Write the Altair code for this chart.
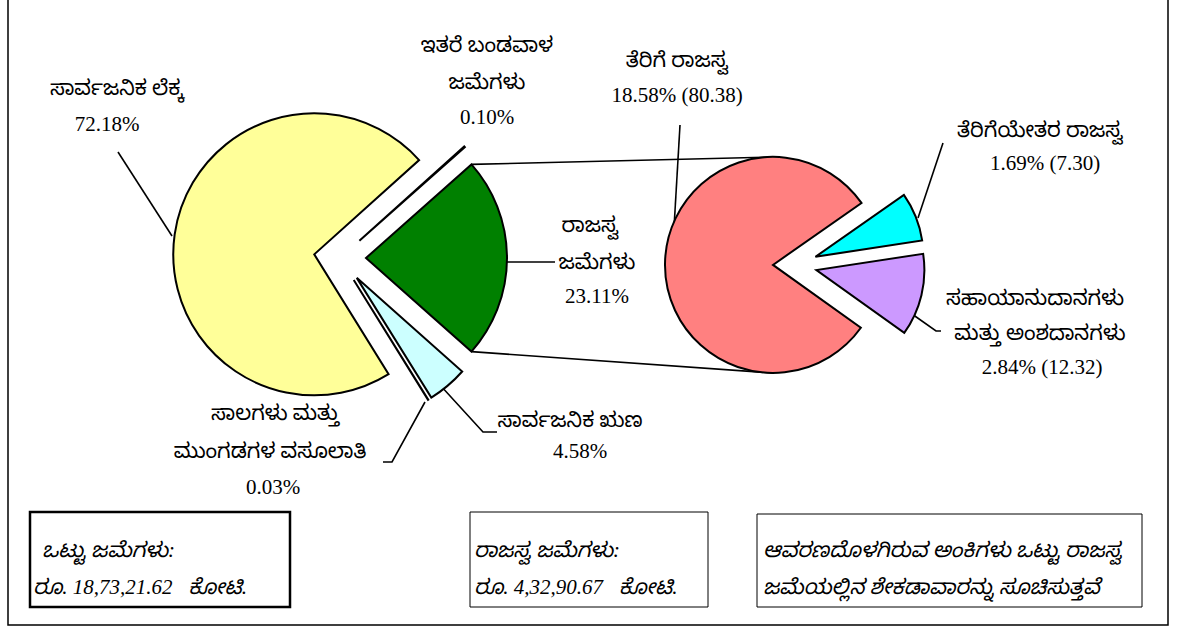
import math
import altair as alt
import pandas as pd

W, H = 1180, 630

# ---------------- data ----------------
left_names = ["ರಾಜಸ್ವ ಜಮೆಗಳು", "ಸಾರ್ವಜನಿಕ ಋಣ", "ಸಾಲಗಳು ಮತ್ತು ಮುಂಗಡಗಳ ವಸೂಲಾತಿ",
              "ಸಾರ್ವಜನಿಕ ಲೆಕ್ಕ", "ಇತರೆ ಬಂಡವಾಳ ಜಮೆಗಳು"]
left_values = [23.11, 4.58, 0.03, 72.18, 0.10]
left_colors = ["#008000", "#CCFFFF", "#FFFFFF", "#FFFF99", "#000000"]

right_names = ["ತೆರಿಗೆಯೇತರ ರಾಜಸ್ವ", "ಸಹಾಯಾನುದಾನಗಳು ಮತ್ತು ಅಂಶದಾನಗಳು", "ತೆರಿಗೆ ರಾಜಸ್ವ"]
right_values = [1.69, 2.84, 18.58]
right_shares = [7.30, 12.32, 80.38]
right_colors = ["#00FFFF", "#CC99FF", "#FF8080"]

label_lines = [
    "ಸಾರ್ವಜನಿಕ ಲೆಕ್ಕ", "72.18%",
    "ಇತರೆ ಬಂಡವಾಳ", "ಜಮೆಗಳು", "0.10%",
    "ತೆರಿಗೆ ರಾಜಸ್ವ", "18.58% (80.38)",
    "ರಾಜಸ್ವ", "ಜಮೆಗಳು", "23.11%",
    "ತೆರಿಗೆಯೇತರ ರಾಜಸ್ವ", "1.69% (7.30)",
    "ಸಹಾಯಾನುದಾನಗಳು", "ಮತ್ತು ಅಂಶದಾನಗಳು", "2.84% (12.32)",
    "ಸಾಲಗಳು ಮತ್ತು", "ಮುಂಗಡಗಳ ವಸೂಲಾತಿ", "0.03%",
    "ಸಾರ್ವಜನಿಕ ಋಣ", "4.58%",
]
box_lines = [
    "ಒಟ್ಟು ಜಮೆಗಳು:", "ರೂ. 18,73,21.62\u00a0\u00a0\u00a0ಕೋಟಿ.",
    "ರಾಜಸ್ವ ಜಮೆಗಳು:", "ರೂ. 4,32,90.67\u00a0\u00a0\u00a0ಕೋಟಿ.",
    "ಆವರಣದೊಳಗಿರುವ ಅಂಕಿಗಳು ಒಟ್ಟು ರಾಜಸ್ವ", "ಜಮೆಯಲ್ಲಿನ ಶೇಕಡಾವಾರನ್ನು ಸೂಚಿಸುತ್ತವೆ",
]

# ---------------- layout / style ----------------
FONT = "Liberation Serif, 'Noto Sans Kannada', 'Noto Serif Kannada', 'Lohit Kannada', 'Noto Sans', sans-serif"
LABEL_SIZE = 21
BOX_SIZE = 21
L_CX, L_CY, L_R, L_EXP = 340, 258, 141, 26
L_ROT = math.radians(90 - left_values[0] / sum(left_values) * 360 / 2)
R_CX, R_CY, R_R, R_EXP = 795, 265, 108, 22
R_ROT = math.radians(55)

label_pos = [
    (117, 89), (107, 125),
    (487, 46), (487, 83), (487, 118),
    (677, 61), (677, 96),
    (590, 226), (597, 263), (597, 297),
    (1040, 131), (1045, 164),
    (1035, 299), (1040, 334), (1042, 368),
    (275, 414), (270, 452), (273, 488),
    (570, 421), (580, 452),
]
box_pos = [(42, 551), (33, 588), (474, 551), (474, 588), (763, 551), (763, 588)]

boxes = [(30, 512, 290, 607, 2.5), (470, 512, 708, 607, 1), (757, 514, 1142, 607, 1)]

leaders = [
    [(118, 152), (172, 236)],
    [(680, 125), (673, 245)],
    [(943, 143), (918, 218)],
    [(912, 314), (936, 331), (941, 331)],
    [(506, 262), (555, 262)],
    [(440, 385), (483, 432), (497, 432)],
    [(425, 402), (392, 462), (383, 462)],
]


def pie(names, values, colors, cx, cy, r, exp, rot):
    total = sum(values)
    df = pd.DataFrame({"name": names, "value": values, "color": colors,
                       "order": list(range(len(names)))})
    base = (
        alt.Chart(df)
        .transform_window(cum="sum(value)", sort=[alt.SortField("order")], frame=[None, 0])
        .transform_calculate(start="datum.cum - datum.value", end="datum.cum")
        .transform_calculate(mid=f"{rot} + (datum.start + datum.end) / 2 / {total} * 2 * PI")
        .transform_calculate(cx=f"{cx} + {exp} * sin(datum.mid)",
                             cy=f"{cy} - {exp} * cos(datum.mid)")
    )
    return base.mark_arc(radius=r, stroke="black", strokeWidth=2, strokeJoin="miter").encode(
        x=alt.X("cx:Q", scale=None, axis=None),
        y=alt.Y("cy:Q", scale=None, axis=None),
        theta=alt.Theta("start:Q", stack=None,
                        scale=alt.Scale(domain=[0, total], range=[rot, rot + 2 * math.pi])),
        theta2="end:Q",
        color=alt.Color("color:N", scale=None),
    )


left_pie = pie(left_names, left_values, left_colors, L_CX, L_CY, L_R, L_EXP, L_ROT)
right_pie = pie(right_names, right_values, right_colors, R_CX, R_CY, R_R, R_EXP, R_ROT)

# connector lines from the green slice corners to the second pie
g_apex = (L_CX + L_EXP, L_CY)
g_span = left_values[0] / sum(left_values) * 2 * math.pi
g_top = (g_apex[0] + L_R * math.sin(L_ROT), g_apex[1] - L_R * math.cos(L_ROT))
g_bot = (g_apex[0] + L_R * math.sin(L_ROT + g_span), g_apex[1] - L_R * math.cos(L_ROT + g_span))
red_x = R_CX - R_EXP
conn = [[g_top, (red_x, R_CY - R_R)], [g_bot, (red_x, R_CY + R_R)]]

line_rows = []
for i, pts in enumerate(leaders + conn):
    for j, (x, y) in enumerate(pts):
        line_rows.append({"id": i, "o": j, "x": x, "y": y})
lines = alt.Chart(pd.DataFrame(line_rows)).mark_line(color="black", strokeWidth=1.6).encode(
    x=alt.X("x:Q", scale=None, axis=None),
    y=alt.Y("y:Q", scale=None, axis=None),
    detail="id:N",
    order="o:Q",
)

lab_df = pd.DataFrame({"t": label_lines, "x": [p[0] for p in label_pos], "y": [p[1] for p in label_pos]})
labels = alt.Chart(lab_df).mark_text(font=FONT, fontSize=LABEL_SIZE, align="center", baseline="middle",
                                     color="black").encode(
    x=alt.X("x:Q", scale=None, axis=None), y=alt.Y("y:Q", scale=None, axis=None), text="t:N")

box_df = pd.DataFrame({"t": box_lines, "x": [p[0] for p in box_pos], "y": [p[1] for p in box_pos]})
box_text = alt.Chart(box_df).mark_text(font=FONT, fontSize=BOX_SIZE, fontStyle="italic", align="left",
                                       baseline="middle", color="black").encode(
    x=alt.X("x:Q", scale=None, axis=None), y=alt.Y("y:Q", scale=None, axis=None), text="t:N")

rect_df = pd.DataFrame([{"x": b[0], "y": b[1], "x2": b[2], "y2": b[3], "sw": b[4]} for b in boxes])
rects = alt.Chart(rect_df).mark_rect(fill="white", stroke="black").encode(
    x=alt.X("x:Q", scale=None, axis=None), y=alt.Y("y:Q", scale=None, axis=None),
    x2="x2:Q", y2="y2:Q", strokeWidth=alt.StrokeWidth("sw:Q", scale=None))

frame_df = pd.DataFrame([{"x": 8, "y": -5, "x2": 1168, "y2": 625}])
frame = alt.Chart(frame_df).mark_rect(fill="white", stroke="black", strokeWidth=1.5).encode(
    x=alt.X("x:Q", scale=None, axis=None), y=alt.Y("y:Q", scale=None, axis=None),
    x2="x2:Q", y2="y2:Q")

chart = alt.layer(frame, lines, left_pie, right_pie, rects, labels, box_text).resolve_scale(
    theta="independent"
).properties(
    width=W, height=H, padding=0, autosize=alt.AutoSizeParams(type="none"),
    background="white",
).configure_view(stroke=None)

chart.save("out.html", embed_options={"renderer": "svg", "actions": False})
